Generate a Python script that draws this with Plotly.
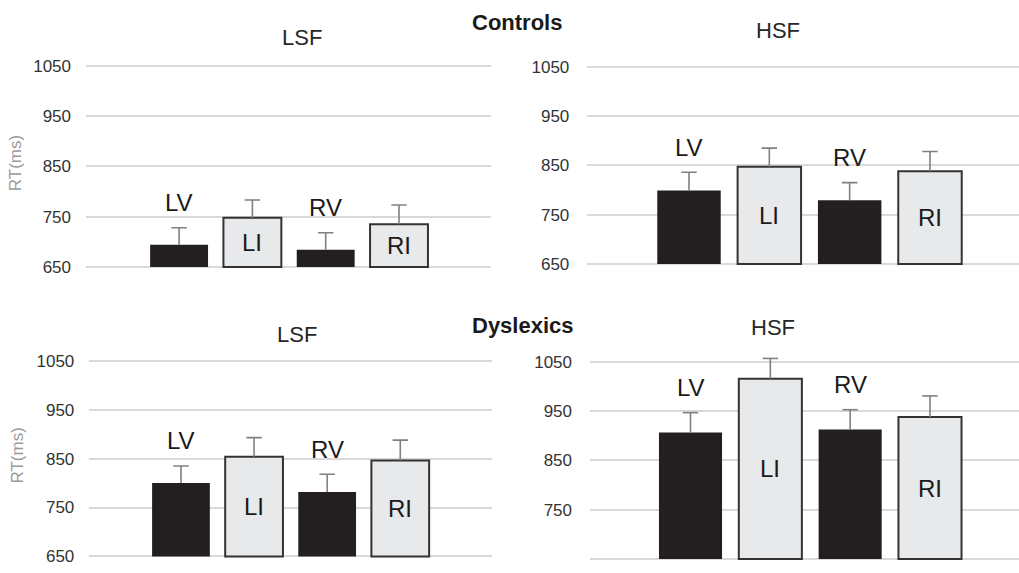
import plotly.graph_objects as go

# ---- data ----
conditions = ["LV", "LI", "RV", "RI"]
panel_titles = ["LSF", "HSF", "LSF", "HSF"]
group_titles = ["Controls", "Dyslexics"]

controls_lsf = [694, 748, 684, 735]
controls_lsf_err = [34, 35, 34, 38]
controls_hsf = [799, 847, 779, 838]
controls_hsf_err = [37, 38, 36, 40]
dyslexics_lsf = [800, 854, 782, 846]
dyslexics_lsf_err = [35, 39, 36, 42]
dyslexics_hsf = [907, 1016, 913, 938]
dyslexics_hsf_err = [40, 41, 40, 43]

tick_vals = [650, 750, 850, 950, 1050]
tick_text_full = ["650", "750", "850", "950", "1050"]
tick_text_br = ["", "750", "850", "950", "1050"]

BASE = 650
Y_LO, Y_HI = 646, 1070
W, H = 1019, 573
FONT = "Liberation Sans, Arial, sans-serif"
DARK = "#231f20"
LIGHT = "#e8e9eb"
ERRC = "#808080"

# panel geometry (pixels): x left, x right, y of 650, y of 1050, x range
panels = [
    dict(vals=controls_lsf, err=controls_lsf_err, xl=86, xr=491, p650=270.7, p1050=66.7,
         xr_rng=[-1.27, 4.255], ticks=tick_text_full, title_xy=(280, 38)),
    dict(vals=controls_hsf, err=controls_hsf_err, xl=587.3, xr=1019, p650=267.7, p1050=67.7,
         xr_rng=[-1.266, 4.108], ticks=tick_text_full, title_xy=(802, 31)),
    dict(vals=dyslexics_lsf, err=dyslexics_lsf_err, xl=89.3, xr=492.3, p650=564.3, p1050=366,
         xr_rng=[-1.254, 4.259], ticks=tick_text_full, title_xy=(275, 339)),
    dict(vals=dyslexics_hsf, err=dyslexics_hsf_err, xl=590, xr=1019, p650=567, p1050=367,
         xr_rng=[-1.259, 4.115], ticks=tick_text_br, title_xy=(797, 332)),
]

fig = go.Figure()
annotations = []
layout_axes = {}

for i, p in enumerate(panels):
    n = i + 1
    xa = "x" if n == 1 else f"x{n}"
    ya = "y" if n == 1 else f"y{n}"
    scale = (p["p650"] - p["p1050"]) / 400.0
    p_lo = p["p650"] + (BASE - Y_LO) * scale
    p_hi = p["p1050"] - (Y_HI - 1050) * scale
    ydom = [1 - p_lo / H, 1 - p_hi / H]
    xdom = [p["xl"] / W, min(p["xr"] / W, 1.0)]

    colors = [DARK, LIGHT, DARK, LIGHT]
    lw = [0, 2, 0, 2]
    fig.add_trace(go.Bar(
        x=conditions,
        y=[v - BASE for v in p["vals"]],
        base=BASE,
        width=0.79,
        marker=dict(color=colors, line=dict(color="#333333", width=lw)),
        error_y=dict(type="data", symmetric=False, array=p["err"],
                     arrayminus=[0, 0, 0, 0], color=ERRC, thickness=1.6, width=0),
        xaxis=xa, yaxis=ya, showlegend=False, hoverinfo="skip",
    ))
    # error bar caps
    fig.add_trace(go.Scatter(
        x=conditions,
        y=[v + e for v, e in zip(p["vals"], p["err"])],
        mode="markers",
        marker=dict(symbol="line-ew-open", size=11, color=ERRC,
                    line=dict(color=ERRC, width=1.6)),
        xaxis=xa, yaxis=ya, showlegend=False, hoverinfo="skip",
    ))

    layout_axes["xaxis" if n == 1 else f"xaxis{n}"] = dict(
        domain=xdom, range=p["xr_rng"], type="category", showticklabels=False,
        showgrid=False, zeroline=False, showline=False, ticks="",
        anchor=ya, fixedrange=True,
    )
    layout_axes["yaxis" if n == 1 else f"yaxis{n}"] = dict(
        domain=ydom, range=[Y_LO, Y_HI], tickvals=tick_vals, ticktext=p["ticks"],
        showgrid=True, gridcolor="#d9d9d9", gridwidth=1.5, zeroline=False,
        showline=False, ticks="", ticklabelstandoff=14 if n in (1, 3) else 17,
        tickfont=dict(family=FONT, size=17, color="#333333"),
        anchor=xa, fixedrange=True,
    )

    # bar labels
    for j, c in enumerate(conditions):
        v = p["vals"][j]
        if j in (0, 2):
            annotations.append(dict(x=c, y=v + p["err"][j], xref=xa, yref=ya, text=c,
                                    showarrow=False, yanchor="middle", yshift=25,
                                    font=dict(family=FONT, size=24, color="#1a1a1a")))
        else:
            annotations.append(dict(x=c, y=(BASE + v) / 2, xref=xa, yref=ya, text=c,
                                    showarrow=False, yanchor="middle",
                                    font=dict(family=FONT, size=24, color="#1a1a1a")))

    tx, ty = p["title_xy"]
    annotations.append(dict(x=tx / W, y=1 - ty / H, xref="paper", yref="paper",
                            text=panel_titles[i], showarrow=False, yanchor="middle",
                            font=dict(family=FONT, size=22, color="#262626")))

# group titles
for gt, (gx, gy) in zip(group_titles, [(516.5, 22.5), (523, 330.5)]):
    annotations.append(dict(x=gx / W, y=1 - gy / H, xref="paper", yref="paper",
                            text=f"<b>{gt}</b>", showarrow=False, yanchor="middle",
                            font=dict(family=FONT, size=22, color="#1a1a1a")))

# y-axis titles
for (ax_x, ax_y) in [(15.5, 166), (17.5, 462.5)]:
    annotations.append(dict(x=ax_x / W, y=1 - ax_y / H, xref="paper", yref="paper",
                            text="RT(ms)", showarrow=False, textangle=-90,
                            xanchor="center", yanchor="middle",
                            font=dict(family=FONT, size=17, color="#9a9a9a")))

fig.update_layout(
    width=W, height=H, margin=dict(l=0, r=0, t=0, b=0),
    paper_bgcolor="white", plot_bgcolor="white",
    annotations=annotations, **layout_axes,
)

fig.write_html("out.html")
